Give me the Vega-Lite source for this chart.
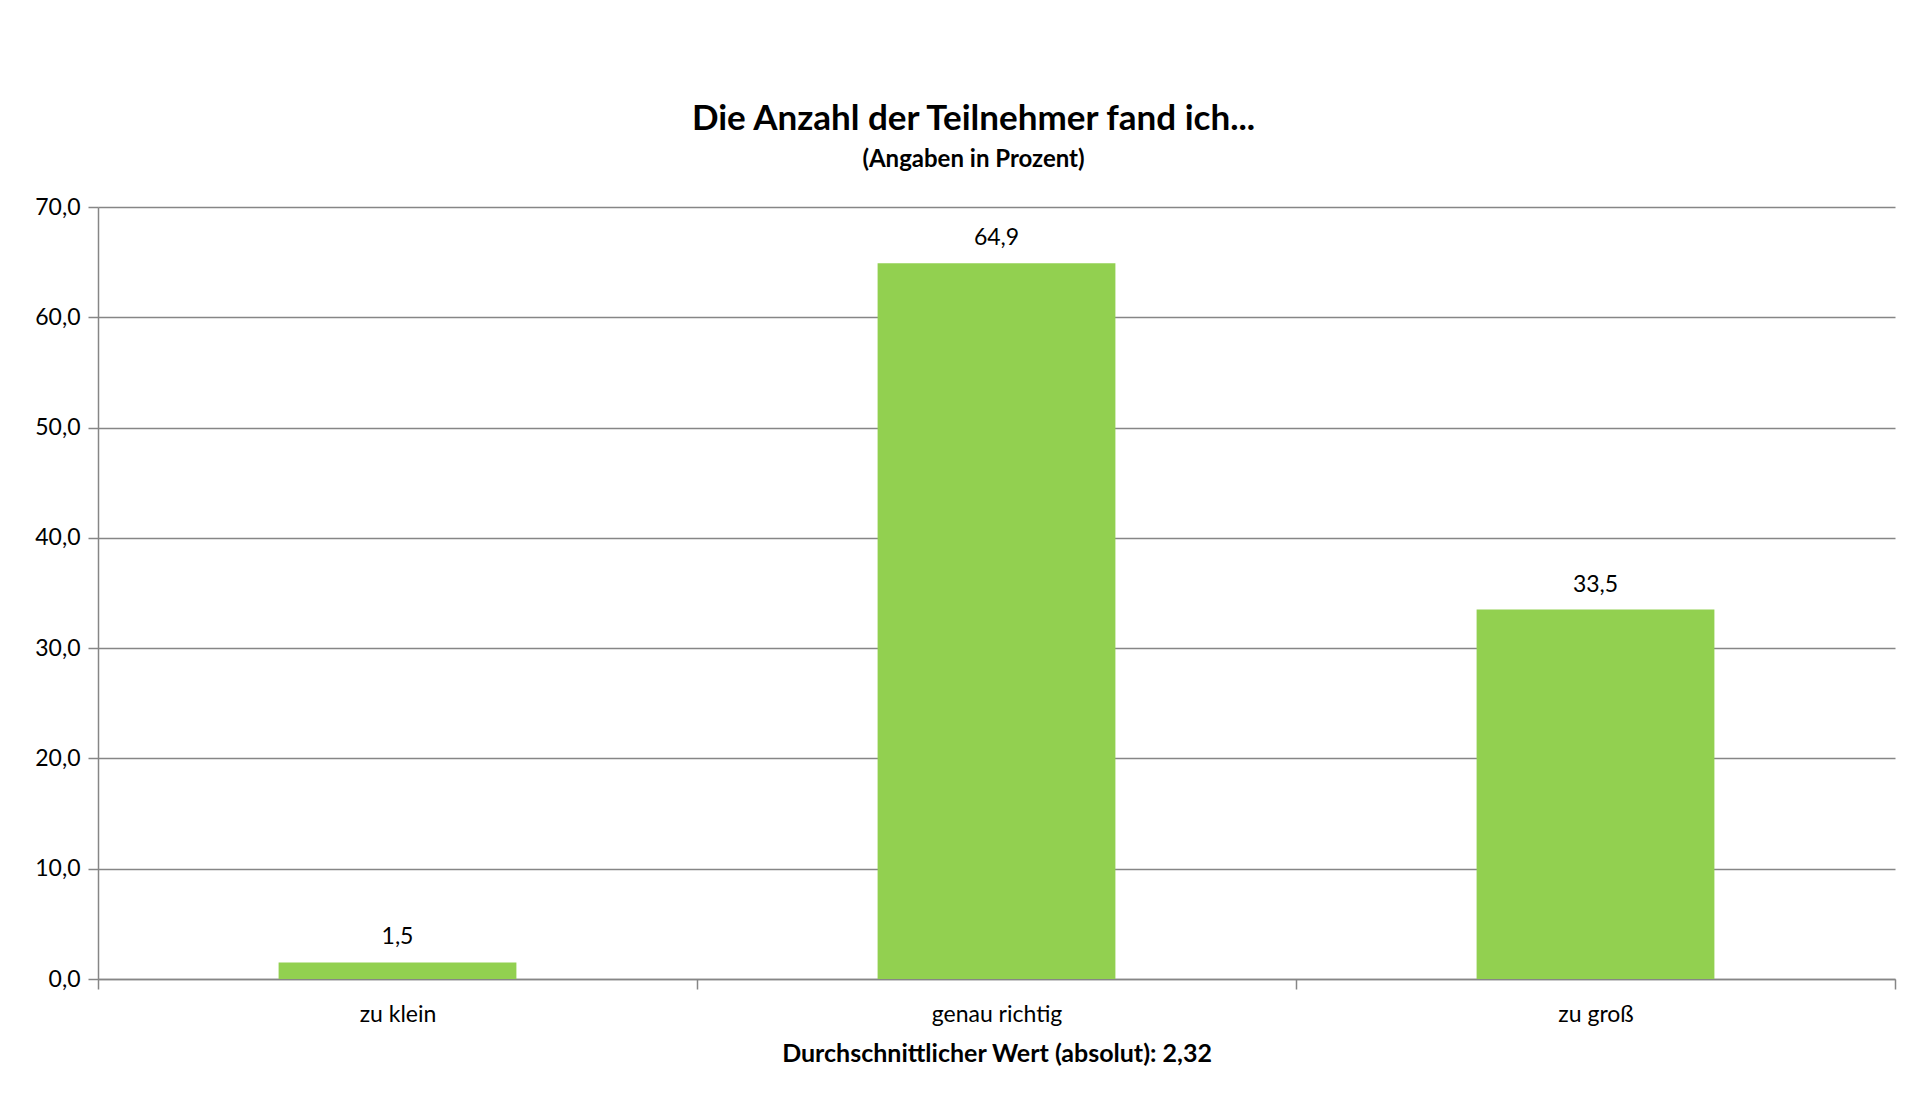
{
  "$schema": "https://vega.github.io/schema/vega-lite/v6.json",
  "autosize": "none",
  "width": 1797,
  "height": 772,
  "padding": {"left": 98, "top": 207, "right": 28, "bottom": 118},
  "background": "white",
  "config": {
    "locale": {"number": {"decimal": ",", "thousands": ".", "grouping": [3], "currency": ["", " €"]}},
    "font": "Lato",
    "view": {"stroke": null}
  },
  "title": {
    "text": "Die Anzahl der Teilnehmer fand ich...",
    "subtitle": "(Angaben in Prozent)",
    "font": "Lato",
    "fontSize": 35,
    "fontWeight": "bold",
    "color": "black",
    "subtitleFont": "Lato",
    "subtitleFontSize": 24,
    "subtitleFontWeight": "bold",
    "subtitleColor": "black",
    "subtitlePadding": 11,
    "anchor": "middle",
    "dx": -23,
    "offset": 24
  },
  "data": {
    "values": [
      {"kategorie": "zu klein", "prozent": 1.5},
      {"kategorie": "genau richtig", "prozent": 64.9},
      {"kategorie": "zu groß", "prozent": 33.5}
    ]
  },
  "encoding": {
    "x": {
      "field": "kategorie",
      "type": "nominal",
      "sort": null,
      "scale": {"paddingInner": 0, "paddingOuter": 0},
      "axis": {
        "title": "Durchschnittlicher Wert (absolut): 2,32",
        "titleFont": "Lato",
        "titleFontSize": 25,
        "titleFontWeight": "bold",
        "titleColor": "black",
        "titlePadding": 15,
        "labelAngle": 0,
        "labelFont": "Lato",
        "labelFontSize": 23,
        "labelColor": "black",
        "labelPadding": 14,
        "domainColor": "#868686",
        "domainWidth": 1.5,
        "tickColor": "#868686",
        "tickWidth": 1.5,
        "tickSize": 10,
        "tickBand": "extent"
      }
    },
    "y": {
      "field": "prozent",
      "type": "quantitative",
      "scale": {"domain": [0, 70], "nice": false},
      "axis": {
        "title": null,
        "values": [0, 10, 20, 30, 40, 50, 60, 70],
        "format": ".1f",
        "labelFont": "Lato",
        "labelFontSize": 23,
        "labelColor": "black",
        "labelPadding": 8,
        "domainColor": "#868686",
        "domainWidth": 1.5,
        "tickColor": "#868686",
        "tickWidth": 1.5,
        "tickSize": 10,
        "gridColor": "#868686",
        "gridWidth": 1.5
      }
    }
  },
  "layer": [
    {"mark": {"type": "bar", "color": "#92D050", "width": {"band": 0.397}}},
    {
      "mark": {"type": "text", "baseline": "bottom", "dy": -13, "font": "Lato", "fontSize": 23, "color": "black"},
      "encoding": {"text": {"field": "prozent", "type": "quantitative", "format": ".1f"}}
    }
  ]
}
